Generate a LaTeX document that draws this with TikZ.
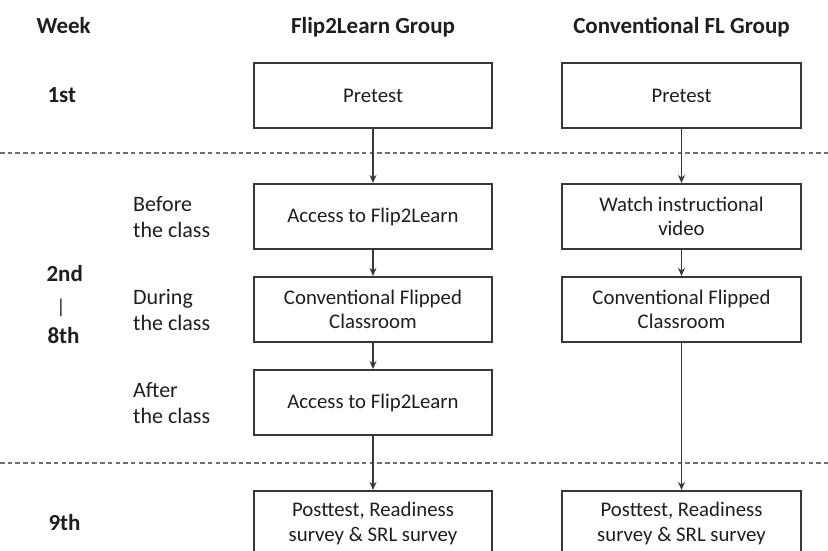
\documentclass[tikz,border=0pt]{standalone}
\usepackage{fontspec}
\setmainfont{Carlito}
\usetikzlibrary{arrows.meta}
\definecolor{ink}{HTML}{1E1E1E}
\definecolor{edge}{HTML}{383838}
\definecolor{rule}{HTML}{6E6E6E}
\begin{document}
\begin{tikzpicture}[x=1pt,y=-1pt,
  stagebox/.style={draw=edge, line width=2.1pt, text=ink, align=center,
    inner sep=0pt, minimum width=238pt, minimum height=65pt,
    font=\fontsize{20.8}{24.5}\selectfont},
  head/.style={font=\fontsize{23}{27}\selectfont\bfseries, text=ink, anchor=base},
  week/.style={font=\fontsize{23}{27}\selectfont\bfseries, text=ink, anchor=base west},
  phase/.style={align=left, text=ink, anchor=west, inner sep=0pt,
    font=\fontsize{22}{26}\selectfont},
  flow/.style={draw=edge, line width=1.2pt, -{Stealth[length=8pt,width=7pt]}},
  divider/.style={draw=rule, line width=1.8pt, dash pattern=on 4.5pt off 3.2pt}]
\useasboundingbox (0,0) rectangle (828,550);

% column headings
\node[week] (hweek) at (33,33.3) {Week};
\node[head] (hflip) at (373,33.3) {Flip2Learn Group};
\node[head] (hconv) at (681.5,33.3) {Conventional FL Group};

% week labels
\node[week] (w1) at (44,102.7) {1st};
\node[week] (w2) at (43,281.7) {2nd};
\node[font=\fontsize{20}{22}\selectfont, text=ink, inner sep=0pt] (wbar) at (61,307.5) {|};
\node[week] (w8) at (44,343) {8th};
\node[week] (w9) at (45,530) {9th};

% phase labels
\node[phase] (pbefore) at (133,217.5) {Before\\the class};
\node[phase] (pduring) at (133,310.5) {During\\the class};
\node[phase] (pafter) at (133,403.5) {After\\the class};

% week dividers
\coordinate (d1l) at (0,153);
\coordinate (d1r) at (828,153);
\coordinate (d2l) at (0,463);
\coordinate (d2r) at (828,463);
\draw[divider] (d1l) -- (d1r);
\draw[divider] (d2l) -- (d2r);

% Flip2Learn group
\node[stagebox] (fpre) at (373,95.5) {Pretest};
\node[stagebox] (fbefore) at (373,216.5) {Access to Flip2Learn};
\node[stagebox] (fduring) at (373,309.5) {Conventional Flipped\\Classroom};
\node[stagebox] (fafter) at (373,402.5) {Access to Flip2Learn};
\node[stagebox] (fpost) at (373,523.5) {Posttest, Readiness\\survey \& SRL survey};

% Conventional FL group
\node[stagebox, minimum width=239pt] (cpre) at (681.5,95.5) {Pretest};
\node[stagebox, minimum width=239pt] (cbefore) at (681.5,216.5) {Watch instructional\\video};
\node[stagebox, minimum width=239pt] (cduring) at (681.5,309.5) {Conventional Flipped\\Classroom};
\node[stagebox, minimum width=239pt] (cpost) at (681.5,523.5) {Posttest, Readiness\\survey \& SRL survey};

% flow arrows
\draw[flow] (fpre) -- (fbefore);
\draw[flow] (fbefore) -- (fduring);
\draw[flow] (fduring) -- (fafter);
\draw[flow] (fafter) -- (fpost);
\draw[flow] (cpre) -- (cbefore);
\draw[flow] (cbefore) -- (cduring);
\draw[flow] (cduring) -- (cpost);
\end{tikzpicture}
\end{document}
